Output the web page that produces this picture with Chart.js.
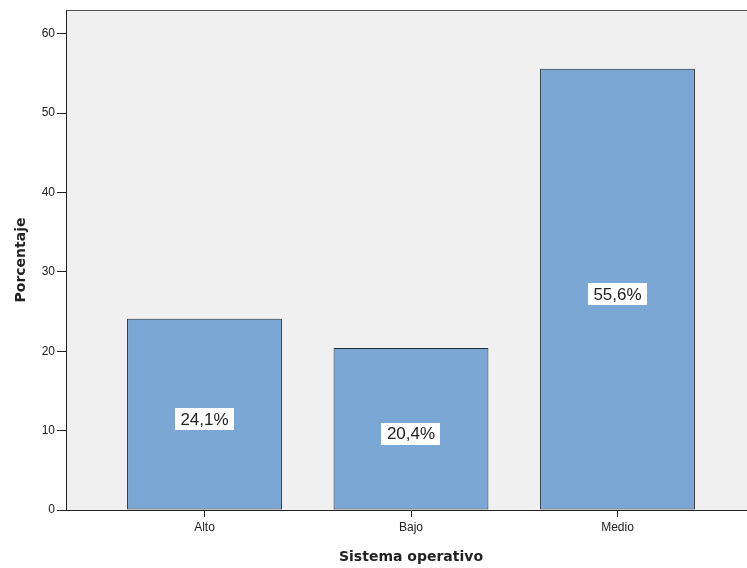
<!DOCTYPE html>
<html>
<head>
<meta charset="utf-8">
<script src="https://cdn.jsdelivr.net/npm/chart.js@4"></script>
<style>
  html, body { margin: 0; padding: 0; background: #fff; overflow: hidden; }
  #wrap { width: 756px; height: 568px; }
</style>
</head>
<body>
<div id="wrap"><canvas id="chart"></canvas></div>
<script>
// Sistema operativo - porcentajes
const categories = ["Alto", "Bajo", "Medio"];
const percentages = [24.1, 20.4, 55.6];
const yTicks = [0, 10, 20, 30, 40, 50, 60];

const plotBg = {
  id: "plotBg",
  beforeDraw(chart) {
    const { ctx, chartArea: a } = chart;
    ctx.save();
    ctx.fillStyle = "#ffffff";
    ctx.fillRect(0, 0, chart.width, chart.height);
    ctx.fillStyle = "#f0f0f0";
    ctx.fillRect(a.left, a.top, a.right - a.left, a.bottom - a.top);
    ctx.strokeStyle = "#555555";
    ctx.lineWidth = 1;
    ctx.beginPath();
    ctx.moveTo(a.left, a.top + 0.5);
    ctx.lineTo(a.right, a.top + 0.5);
    ctx.stroke();
    ctx.restore();
  }
};

// etiqueta blanca con el porcentaje, un poco por debajo del centro de la barra
const barLabels = {
  id: "barLabels",
  afterDatasetsDraw(chart) {
    const ctx = chart.ctx;
    const meta = chart.getDatasetMeta(0);
    ctx.save();
    ctx.font = "17px 'Liberation Sans', Arial, sans-serif";
    ctx.textAlign = "center";
    ctx.textBaseline = "middle";
    meta.data.forEach((bar, i) => {
      const txt = percentages[i].toFixed(1).replace(".", ",") + "%";
      const cx = bar.x;
      const cy = (bar.y + bar.base) / 2 + 5;
      const w = ctx.measureText(txt).width + 11;
      const h = 22;
      ctx.fillStyle = "#ffffff";
      ctx.fillRect(Math.round(cx - w / 2), Math.round(cy - h / 2), Math.round(w), h);
      ctx.fillStyle = "#222222";
      ctx.fillText(txt, cx, cy + 1);
    });
    ctx.restore();
  }
};

new Chart(document.getElementById("chart"), {
  type: "bar",
  data: {
    datasets: [{
      data: percentages.map((v, i) => ({ x: i, y: v })),
      backgroundColor: "#7ba7d5",
      borderColor: "#1f2a36",
      borderWidth: 1,
      borderSkipped: false,
      categoryPercentage: 0.75,
      barPercentage: 1
    }]
  },
  options: {
    responsive: true,
    maintainAspectRatio: false,
    animation: false,
    layout: { padding: { top: 10, left: 0, right: 0, bottom: 0 } },
    plugins: { legend: { display: false }, tooltip: { enabled: false } },
    scales: {
      x: {
        type: "linear",
        offset: false,
        min: -0.6707,
        max: 2.6707,
        afterBuildTicks: s => { s.ticks = categories.map((c, i) => ({ value: i })); },
        afterFit: s => { s.height = 58; },
        grid: { display: true, offset: false, drawOnChartArea: false, tickLength: 7, color: "#222" },
        border: { display: true, color: "#222", width: 1 },
        ticks: {
          callback: v => categories[v],
          font: { family: "'Liberation Sans', Arial, sans-serif", size: 12 },
          color: "#222",
          padding: 3,
          maxRotation: 0
        },
        title: {
          display: true,
          text: "Sistema operativo",
          font: { family: "'DejaVu Sans', sans-serif", size: 14, weight: "bold" },
          color: "#222",
          padding: { top: 0, bottom: 2 }
        }
      },
      y: {
        min: 0,
        max: 63,
        afterBuildTicks: s => { s.ticks = yTicks.map(v => ({ value: v })); },
        afterFit: s => { s.width = 66; },
        grid: { display: true, drawOnChartArea: false, tickLength: 9, color: "#222" },
        border: { display: true, color: "#222", width: 1 },
        ticks: {
          font: { family: "'Liberation Sans', Arial, sans-serif", size: 12 },
          color: "#222",
          padding: 2
        },
        title: {
          display: true,
          text: "Porcentaje",
          font: { family: "'DejaVu Sans', sans-serif", size: 14, weight: "bold" },
          color: "#222",
          padding: { top: 12.5, bottom: 0 }
        }
      }
    }
  },
  plugins: [plotBg, barLabels]
});
</script>
</body>
</html>
